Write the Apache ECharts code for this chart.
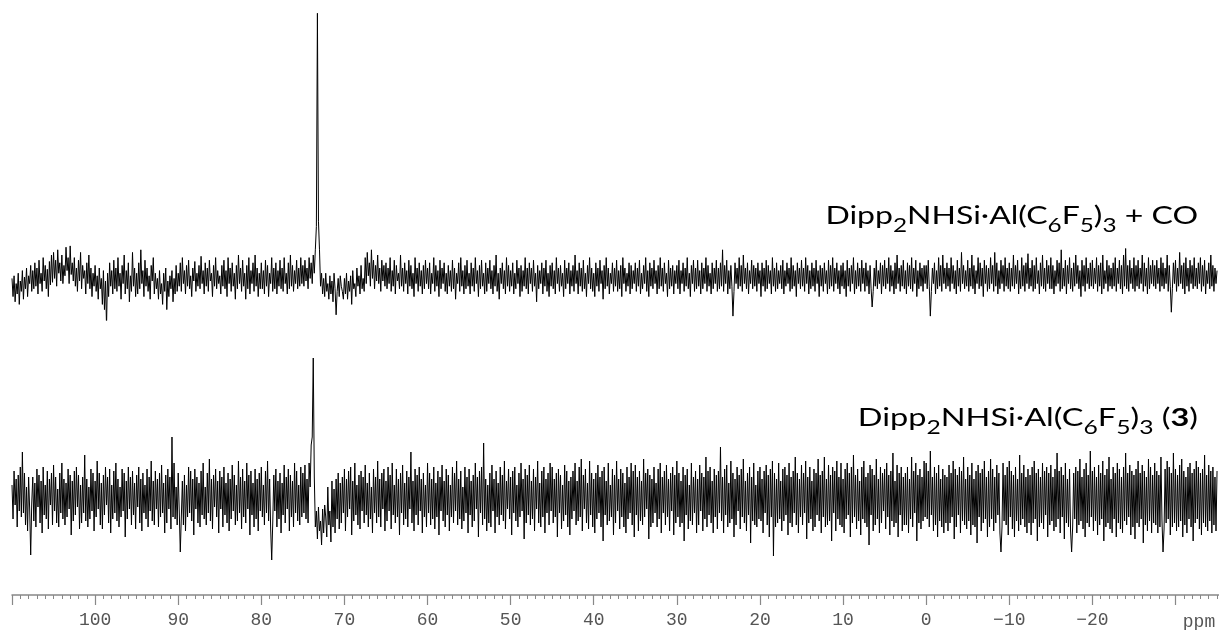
<!DOCTYPE html>
<html>
<head>
<meta charset="utf-8">
<script src="https://cdn.jsdelivr.net/npm/echarts@6/dist/echarts.min.js"></script>
<style>
html,body{margin:0;padding:0;background:#fff;}
#chart{width:1219px;height:630px;}
</style>
</head>
<body>
<div id="chart"></div>
<script>
// chemical shift sampling (ppm), high to low
const ppmStart = 110;
const ppmStep = 0.125;

// axis tick labels (ppm)
const tickValues = [100, 90, 80, 70, 60, 50, 40, 30, 20, 10, 0, -10, -20];
const axisUnit = 'ppm';

// trace labels
const labelTop = 'Dipp2NHSi·Al(C6F5)3 + CO';
const labelBottom = 'Dipp2NHSi·Al(C6F5)3 (3)';

// top spectrum: Dipp2NHSi·Al(C6F5)3 + CO (intensity, arbitrary units)
const intensityTop = [
 2,-12,4,-16,-2,-10,6,-18,0,-8,8,-14,3,-6,10,-12,4,-2,12,-8,
 8,-6,14,-4,10,-10,16,-2,6,-8,18,0,12,-6,9,-12,15,-3,20,-1,
 22,2,16,-4,24,6,14,0,20,-2,12,4,26,8,18,-2,27,5,14,0,
 18,-4,10,-8,16,0,22,-6,12,2,8,-10,14,-2,20,-6,10,-12,6,-4,
 12,-8,4,-14,10,-6,2,-18,8,-22,0,-35,6,-12,14,-4,8,-10,16,-6,
 10,-8,18,-4,6,-14,12,-2,20,-10,8,-6,14,-16,4,-8,22,-4,10,-12,
 6,-10,14,-6,24,-2,8,-12,16,-4,10,-8,4,-14,12,0,18,-10,6,-6,
 2,-14,8,-10,-2,-18,6,-8,10,-22,0,-12,4,-6,8,-16,2,-10,12,-8,
 6,-4,14,-8,18,-2,8,-10,12,-4,16,-6,4,-12,10,0,15,-8,6,-4,
 12,-6,19,-2,8,-10,14,-4,10,-8,16,0,6,-12,12,-4,18,-6,8,-2,
 4,-10,12,-4,16,-6,8,-12,18,-2,10,-8,14,-4,6,-14,12,-6,20,-2,
 10,-8,16,-4,6,-14,12,-6,18,-10,8,-2,14,-8,20,-4,10,-12,6,-6,
 14,-6,8,-10,16,-4,12,-12,6,-2,18,-8,10,-6,14,-10,8,-4,16,-6,
 10,-8,18,-2,6,-10,14,-6,20,-4,12,-8,8,-2,16,-6,10,-4,18,-2,
 12,-4,16,0,10,-6,18,2,14,-2,20,6,24,42,206,46,24,-4,6,-10,
 2,-12,6,-8,-2,-14,4,-10,0,-16,6,-6,-26,-8,2,-12,4,-4,-8,-14,
 2,-10,6,-14,0,-8,4,-18,8,-6,-2,-12,10,-4,4,-10,12,-6,2,-8,
 18,-2,22,4,14,-4,24,2,16,-6,12,0,20,-2,10,-8,16,0,12,-4,
 14,-6,10,-2,18,-8,8,-4,16,-10,12,0,6,-6,20,-4,10,-8,14,-2,
 8,-10,16,-4,12,-6,6,-12,18,-2,10,-8,14,-4,8,-10,12,-6,16,-2,
 10,-6,14,-10,6,-2,18,-8,12,-4,8,-12,16,-6,10,-2,14,-8,6,-10,
 12,-4,8,-8,16,-6,10,-14,6,-2,14,-8,18,-4,8,-10,12,-6,16,-4,
 6,-10,14,-4,10,-8,18,-2,8,-12,12,-6,16,-4,6,-10,14,-8,10,-2,
 16,-6,8,-10,12,-4,20,-8,6,-14,10,-2,14,-6,8,-10,18,-4,12,-8,
 8,-4,14,-10,6,-6,16,-2,10,-12,12,-8,8,-4,18,-6,10,-10,14,-2,
 10,-8,16,-4,6,-16,12,-6,8,-2,14,-10,10,-4,16,-8,6,-12,12,-4,
 14,-6,8,-10,18,-2,10,-8,12,-4,6,-12,16,-6,10,-2,14,-10,8,-4,
 12,-8,20,-2,8,-10,14,-4,10,-8,16,-6,6,-12,12,-2,18,-6,10,-8,
 6,-12,14,-4,10,-8,16,-2,8,-14,12,-6,18,-4,10,-10,6,-2,14,-8,
 10,-4,16,-8,8,-6,12,-12,18,-2,10,-8,6,-4,14,-10,12,-6,8,-2,
 14,-8,10,-4,16,-10,6,-6,12,-2,18,-8,8,-12,14,-4,10,-6,16,-2,
 8,-10,12,-6,18,-4,10,-8,14,-2,6,-12,16,-6,10,-4,12,-10,8,-2,
 12,-6,16,-10,8,-2,14,-8,10,-4,18,-6,6,-12,12,-2,16,-8,10,-6,
 16,-4,8,-10,14,-6,10,-2,18,-8,12,-4,6,-10,14,-6,10,-2,16,-8,
 10,-6,14,-4,24,-8,12,-2,16,-10,8,-6,12,-4,-27,-8,14,-2,10,-6,
 18,-4,12,-8,20,-2,10,-6,14,-10,8,-2,16,-6,12,-4,10,-8,14,-2,
 8,-12,14,-4,10,-8,16,-6,12,-2,8,-10,18,-4,10,-8,14,-6,8,-2,
 12,-6,16,-10,8,-4,14,-2,10,-8,18,-6,12,-4,8,-12,14,-2,10,-6,
 16,-4,10,-8,18,-2,12,-10,8,-6,14,-4,10,-8,16,-2,8,-12,12,-4,
 10,-8,14,-2,8,-10,16,-6,12,-4,18,-8,10,-2,14,-6,8,-10,12,-4,
 14,-6,8,-12,16,-4,10,-8,12,-2,18,-10,8,-6,14,-4,10,-8,16,-2,
 10,-8,14,-4,8,-10,12,-6,-20,-8,10,-4,16,-6,8,-2,14,-10,12,-4,
 16,-6,10,-2,18,-8,12,-4,8,-10,14,-6,20,-2,10,-8,12,-4,16,-6,
 8,-10,14,-4,12,-6,18,-8,10,-2,16,-12,8,-6,14,-4,10,-8,12,-2,
 12,-6,16,-4,-27,-8,10,-2,14,-10,8,-6,18,-4,12,-8,20,-2,10,-6,
 14,-4,10,-8,18,-2,12,-6,8,-10,16,-4,10,-8,22,-2,12,-6,8,-4,
 16,-8,10,-4,20,-6,12,-10,8,-2,18,-6,14,-4,10,-12,16,-2,12,-8,
 10,-6,18,-2,12,-8,22,-4,14,-10,8,-6,16,-2,12,-8,18,-4,10,-6,
 14,-8,10,-4,20,-6,12,-2,16,-10,8,-6,18,-4,12,-8,14,-2,21,-6,
 10,-4,16,-8,12,-6,18,-2,8,-10,14,-4,20,-6,10,-8,16,-2,12,-6,
 18,-6,12,-10,8,-4,16,-2,14,-8,24,-6,10,-4,16,-10,12,-2,18,-6,
 10,-8,14,-4,20,-2,12,-6,8,-12,16,-4,12,-8,18,-2,10,-6,14,-4,
 16,-6,10,-2,18,-8,12,-4,14,-10,20,-6,8,-2,16,-8,12,-4,10,-6,
 14,-4,18,-8,10,-2,16,-6,12,-10,20,-4,25,-6,12,-8,16,-2,10,-6,
 18,-8,12,-4,16,-6,10,-2,20,-8,14,-4,10,-10,18,-6,12,-2,16,-4,
 12,-6,16,-2,10,-8,18,-4,14,-6,10,-2,20,-8,12,-4,-24,-6,14,-2,
 16,-8,10,-4,22,-2,12,-6,14,-10,18,-4,10,-8,16,-2,12,-6,18,-4,
 10,-6,14,-2,18,-8,12,-4,16,-10,8,-2,14,-6,20,-4,12,-8,10,-2,
 8
];

// bottom spectrum: Dipp2NHSi·Al(C6F5)3 (3) (intensity, arbitrary units)
const intensityBottom = [
 12,-22,26,-8,18,-30,22,-14,30,-20,45,-16,24,-28,10,-34,20,-12,-58,-6,
 20,-24,14,-30,28,-10,22,-26,16,-36,30,-18,12,-22,26,-32,18,-8,24,-28,
 32,-14,20,-26,8,-30,24,-16,34,-22,18,-28,14,-20,28,-12,22,-38,16,-24,
 26,-18,30,-10,22,-32,12,-26,20,-16,42,-24,18,-30,10,-22,28,-14,24,-34,
 16,-20,36,-12,24,-28,14,-32,22,-18,30,-8,20,-26,28,-36,12,-22,26,-16,
 34,-24,18,-30,10,-20,28,-14,24,-40,16,-22,30,-12,20,-28,26,-18,14,-32,
 22,-10,30,-26,18,-34,24,-16,12,-22,28,-30,20,-14,36,-24,16,-28,26,-12,
 18,-30,24,-20,32,-16,14,-36,22,-26,28,-12,20,-32,60,-20,34,-22,10,-28,
 24,-14,-55,-20,16,-28,22,-34,12,-20,30,-16,26,-24,18,-38,28,-12,20,-26,
 14,-30,26,-18,34,-22,10,-28,24,-16,38,-24,18,-32,22,-10,28,-20,16,-36,
 26,-12,20,-30,30,-18,14,-26,24,-34,18,-22,32,-14,22,-28,12,-24,36,-16,
 20,-32,28,-20,16,-26,34,-12,22,-38,26,-18,14,-30,28,-22,18,-34,24,-14,
 30,-20,12,-28,26,-16,36,-24,18,-32,-63,-26,22,-14,28,-30,16,-22,24,-36,
 14,-18,32,-26,20,-12,28,-34,22,-20,16,-30,34,-16,26,-24,12,-28,30,-20,
 24,-16,32,-22,18,-26,34,10,52,60,139,20,-30,-14,-42,-10,-34,-24,-48,-12,
 -36,-8,-20,-40,10,-28,-14,-45,16,-30,8,-36,18,-22,24,-32,14,-26,20,-16,
 28,-34,18,-20,26,-12,30,-38,16,-24,34,-18,12,-28,22,-32,26,-14,20,-26,
 32,-18,14,-30,24,-22,10,-36,28,-16,20,-26,36,-20,18,-30,24,-12,28,-34,
 16,-24,30,-14,22,-32,34,-18,12,-26,28,-20,18,-38,24,-16,32,-28,14,-22,
 26,-30,20,-12,45,-26,16,-34,28,-18,22,-28,30,-14,18,-36,24,-20,12,-30,
 34,-16,24,-28,18,-22,30,-32,14,-20,26,-38,20,-14,32,-24,16,-30,28,-18,
 22,-34,12,-20,30,-26,24,-14,36,-28,18,-22,26,-32,10,-24,30,-16,20,-36,
 28,-18,16,-30,22,-24,34,-12,20,-40,26,-16,30,-28,54,-22,18,-34,12,-26,
 24,-30,32,-14,18,-36,26,-20,14,-28,30,-18,22,-24,36,-32,16,-12,28,-22,
 20,-38,26,-16,30,-24,12,-30,24,-20,34,-14,18,-42,28,-26,22,-18,32,-28,
 16,-22,28,-34,20,-12,36,-26,14,-30,26,-20,30,-36,18,-16,24,-28,34,-14,
 30,-26,18,-20,24,-40,28,-16,22,-32,12,-24,32,-18,26,-30,16,-38,20,-22,
 26,-14,34,-28,16,-24,30,-20,38,-34,22,-12,28,-26,14,-32,36,-18,24,-30,
 18,-36,24,-22,32,-16,20,-30,26,-44,30,-18,16,-28,34,-24,12,-20,28,-38,
 22,-26,36,-14,18,-32,28,-20,24,-30,14,-36,30,-22,20,-16,34,-28,26,-40,
 32,-18,20,-34,26,-24,16,-28,38,-20,24,-12,28,-42,22,-30,18,-26,30,-16,
 14,-30,28,-22,34,-36,20,-16,26,-28,32,-20,18,-34,24,-14,30,-38,22,-26,
 36,-20,24,-30,16,-26,30,-44,22,-18,28,-32,12,-24,34,-28,20,-16,26,-36,
 18,-28,32,-14,24,-34,20,-22,40,-30,26,-18,30,-26,16,-36,28,-20,22,-32,
 26,-16,50,-24,20,-36,28,-18,32,-30,14,-26,36,-22,24,-40,18,-28,30,-14,
 22,-32,28,-20,38,-26,16,-34,24,-18,30,-46,20,-24,34,-28,12,-30,26,-22,
 30,-24,18,-36,26,-16,32,-28,22,-40,28,-20,36,-59,24,-30,18,-26,34,-22,
 16,-34,28,-24,30,-18,22,-38,34,-26,20,-30,26,-16,40,-28,24,-36,18,-20,
 32,-28,24,-16,36,-42,20,-26,30,-22,16,-34,28,-30,24,-18,38,-24,22,-36,
 26,-20,40,-30,18,-28,32,-24,22,-44,30,-16,26,-34,36,-22,20,-28,34,-30,
 18,-36,28,-22,34,-18,24,-40,30,-26,42,-20,22,-32,28,-24,16,-38,30,-22,
 36,-26,20,-30,24,-48,32,-18,28,-34,22,-28,38,-22,18,-36,30,-26,24,-14,
 28,-32,34,-20,22,-38,26,-24,44,-30,16,-26,32,-40,24,-18,30,-34,20,-28,
 24,-28,30,-36,18,-22,40,-30,26,-16,34,-44,22,-26,28,-32,20,-24,36,-20,
 34,-22,26,-30,46,-18,20,-34,30,-28,24,-40,32,-24,18,-30,28,-36,22,-26,
 20,-34,32,-26,24,-20,36,-42,28,-30,22,-18,30,-36,26,-24,40,-28,18,-32,
 30,-24,22,-38,34,-28,18,-30,26,-46,32,-20,24,-34,28,-26,36,-22,20,-40,
 26,-30,38,-22,28,-34,20,-26,32,-18,24,-36,-55,-30,34,-24,22,-28,30,-38,
 36,-20,26,-32,22,-40,30,-24,18,-34,42,-28,24,-22,32,-30,20,-36,28,-26,
 22,-38,30,-26,36,-22,24,-44,28,-30,20,-26,34,-32,26,-18,30,-40,24,-28,
 32,-24,20,-34,28,-30,44,-22,26,-36,30,-20,22,-42,34,-26,18,-30,28,-34,
 -55,-30,24,-22,30,-36,26,-28,38,-24,20,-32,28,-40,34,-26,22,-30,46,-20,
 26,-34,30,-24,20,-38,32,-28,24,-22,36,-44,22,-30,28,-26,40,-32,18,-36,
 30,-22,24,-40,34,-26,28,-32,20,-36,30,-24,44,-28,24,-20,32,-38,26,-30,
 22,-42,28,-26,36,-30,24,-22,32,-46,26,-28,20,-34,38,-24,30,-36,22,-26,
 34,-28,26,-36,22,-30,40,-24,-55,-32,28,-26,36,-22,30,-38,24,-30,44,-26,
 28,-34,22,-30,32,-24,38,-40,26,-28,20,-36,30,-22,34,-30,24,-44,28,-26,
 36,-22,30,-32,24,-38,28,-26,42,-30,22,-34,32,-24,26,-36,30,-28,20,-34,
 26
];

function toPairs(values) {
  return values.map((v, i) => [ppmStart - i * ppmStep, v]);
}

const FONT_LBL = 'Lato';
const FS = 25, FSS = 19, LH = 34;
const richLbl = {
  m: { fontFamily: FONT_LBL, fontSize: FS, fontWeight: 'normal', fill: '#000', lineHeight: LH },
  s: { fontFamily: FONT_LBL, fontSize: FSS, fontWeight: 'normal', fill: '#000', lineHeight: LH, padding: [20, 0, 0, 0] },
  b: { fontFamily: FONT_LBL, fontSize: FS, fontWeight: 'bold', fill: '#000', lineHeight: LH }
};
function richText(str) {
  return str
    .replace('Dipp2', '{m|Dipp}{s|2}{m|')
    .replace('(C6F5)3', '(C}{s|6}{m|F}{s|5}{m|)}{s|3}{m|')
    .replace(' (3)', ' (}{b|3}{m|)')
    + '}';
}
function labelGraphic(str, x, y, sx) {
  return {
    type: 'text', x: x, y: y, scaleX: sx, scaleY: 1, silent: true,
    style: { text: richText(str), rich: richLbl, align: 'right', verticalAlign: 'top' }
  };
}

const chart = echarts.init(document.getElementById('chart'), null, { renderer: 'canvas' });
const gridL = 12, gridR = -39.6;
chart.setOption({
  animation: false,
  backgroundColor: '#fff',
  graphic: [
    labelGraphic(labelTop, 1198, 199, 1.28),
    labelGraphic(labelBottom, 1198, 401, 1.3),
    {
      type: 'text', x: 1199, y: 622, silent: true,
      style: { text: axisUnit, fill: '#555', font: '18px "Liberation Mono"', align: 'center', verticalAlign: 'middle' }
    }
  ],
  grid: [
    { left: gridL, right: gridR, top: 0, height: 320, outerBoundsMode: 'none', containLabel: false },
    { left: gridL, right: gridR, top: 330, bottom: 35, outerBoundsMode: 'none', containLabel: false }
  ],
  xAxis: [
    { gridIndex: 0, type: 'value', min: -40, max: 110, inverse: true, show: false },
    {
      gridIndex: 1, type: 'value', min: -40, max: 110, inverse: true, interval: 10,
      axisLine: { show: true, onZero: false, lineStyle: { color: '#888', width: 1.5 } },
      axisTick: { show: true, length: 10, lineStyle: { color: '#888', width: 1.2 } },
      minorTick: { show: true, splitNumber: 10, length: 4, lineStyle: { color: '#888', width: 1 } },
      splitLine: { show: false },
      axisLabel: {
        margin: 16, color: '#555', fontFamily: 'Liberation Mono', fontSize: 18,
        formatter: v => tickValues.includes(v) ? String(v).replace('-', '\u2212') : ''
      }
    }
  ],
  yAxis: [
    { gridIndex: 0, type: 'value', min: -30, max: 216.2, show: false },
    { gridIndex: 1, type: 'value', min: -98, max: 167, show: false }
  ],
  series: [
    { type: 'line', xAxisIndex: 0, yAxisIndex: 0, data: toPairs(intensityTop), showSymbol: false, symbol: 'none',
      sampling: 'none', lineStyle: { color: '#000', width: 1 }, silent: true },
    { type: 'line', xAxisIndex: 1, yAxisIndex: 1, data: toPairs(intensityBottom), showSymbol: false, symbol: 'none',
      sampling: 'none', lineStyle: { color: '#000', width: 1 }, silent: true }
  ]
});
</script>
</body>
</html>
